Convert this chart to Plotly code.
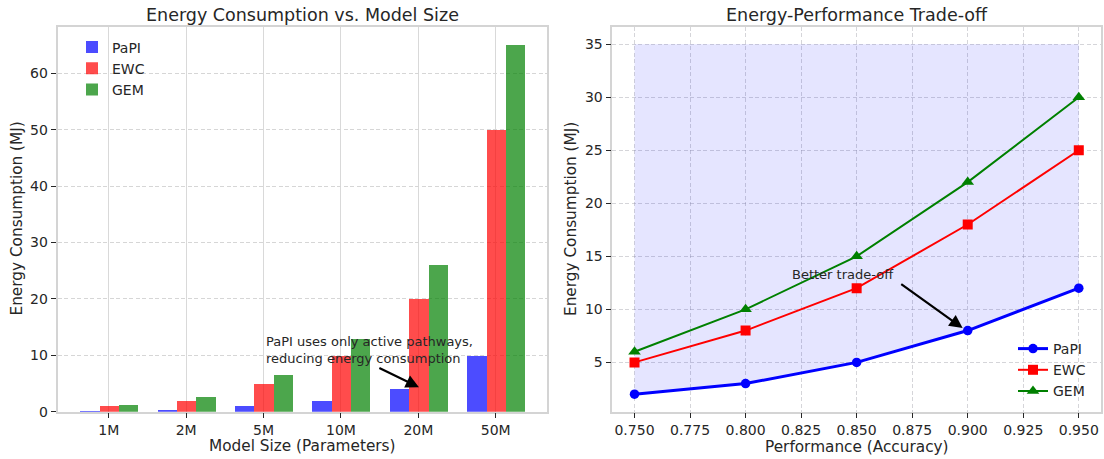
import plotly.graph_objects as go

# ---------------- data ----------------
model_sizes = ['1M', '2M', '5M', '10M', '20M', '50M']
papi_energy = [0.2, 0.4, 1, 2, 4, 10]
ewc_energy = [1, 2, 5, 10, 20, 50]
gem_energy = [1.3, 2.6, 6.5, 13, 26, 65]

performance = [0.75, 0.80, 0.85, 0.90, 0.95]
papi_perf_energy = [2, 3, 5, 8, 12]
ewc_perf_energy = [5, 8, 12, 18, 25]
gem_perf_energy = [6, 10, 15, 22, 30]
fill_top = 35

perf_ticks = [0.75, 0.775, 0.8, 0.825, 0.85, 0.875, 0.9, 0.925, 0.95]

# ---------------- styling ----------------
W, H = 1104, 459
FONT = 'DejaVu Sans'
TXT = '#262626'
FRAME = '#d4d4d4'
BAR_W = 0.25


def px(x):
    return x / W


def py(y):
    return 1 - y / H


left_dom = [px(57.5), px(547)]
right_dom = [px(612.3), px(1101)]
y_dom = [py(411.7), py(26.7)]

fig = go.Figure()

idx = list(range(len(model_sizes)))
series = [
    ('PaPI', papi_energy, 'rgba(0,0,255,0.7)', -BAR_W),
    ('EWC', ewc_energy, 'rgba(255,0,0,0.7)', 0.0),
    ('GEM', gem_energy, 'rgba(0,128,0,0.7)', BAR_W),
]
for name, vals, col, off in series:
    fig.add_trace(go.Bar(
        x=[i + off for i in idx], y=vals, width=BAR_W, name=name,
        marker=dict(color=col, line=dict(width=0)),
        xaxis='x', yaxis='y', legend='legend',
    ))

# fill between PaPI line and top
fig.add_trace(go.Scatter(
    x=performance, y=[fill_top] * len(performance), mode='lines',
    line=dict(width=0), showlegend=False, hoverinfo='skip',
    xaxis='x2', yaxis='y2'))
fig.add_trace(go.Scatter(
    x=performance, y=papi_perf_energy, mode='lines', fill='tonexty',
    fillcolor='rgba(0,0,255,0.1)', line=dict(width=0), showlegend=False,
    hoverinfo='skip', xaxis='x2', yaxis='y2'))

lines = [
    ('PaPI', papi_perf_energy, 'blue', 'circle', 9.5, 3),
    ('EWC', ewc_perf_energy, 'red', 'square', 10, 2),
    ('GEM', gem_perf_energy, 'green', 'triangle-up', 11, 2),
]
for name, vals, col, sym, ms, lw in lines:
    fig.add_trace(go.Scatter(
        x=performance, y=vals, mode='lines+markers', name=name,
        line=dict(color=col, width=lw),
        marker=dict(symbol=sym, size=ms, color=col, line=dict(width=0)),
        xaxis='x2', yaxis='y2', legend='legend2'))

axis_common = dict(
    showline=True, linecolor=FRAME, linewidth=1.5, mirror=True,
    ticks='outside', ticklen=5, tickwidth=1, tickcolor=TXT,
    tickfont=dict(family=FONT, size=14, color=TXT), zeroline=False,
    automargin=False,
)

grid_dash = '4px,2.5px'
fig.update_layout(
    width=W, height=H, margin=dict(l=0, r=0, t=0, b=0, pad=0, autoexpand=False),
    paper_bgcolor='white', plot_bgcolor='white',
    barmode='overlay', bargap=0,
    font=dict(family=FONT, color=TXT),
    xaxis=dict(domain=left_dom, anchor='y', range=[-0.6625, 5.6625],
               tickmode='array', tickvals=idx, ticktext=model_sizes,
               showgrid=True, gridcolor='#d9d9d9', gridwidth=1.4,
               **axis_common),
    yaxis=dict(domain=y_dom, anchor='x', range=[0, 68.25],
               tickmode='array', tickvals=[0, 10, 20, 30, 40, 50, 60],
               showgrid=True, gridcolor='#d6d6d6', gridwidth=1,
               griddash=grid_dash, **axis_common),
    xaxis2=dict(domain=right_dom, anchor='y2', range=[0.74, 0.96],
                tickmode='array', tickvals=perf_ticks,
                ticktext=[f'{v:.3f}' for v in perf_ticks],
                showgrid=True, gridcolor='rgba(150,150,160,0.4)', gridwidth=1,
                griddash=grid_dash, **axis_common),
    yaxis2=dict(domain=y_dom, anchor='x2', range=[0.35, 36.65],
                tickmode='array', tickvals=[5, 10, 15, 20, 25, 30, 35],
                showgrid=True, gridcolor='rgba(150,150,160,0.4)', gridwidth=1,
                griddash=grid_dash, **axis_common),
    legend=dict(x=px(72), y=py(31.5), xanchor='left', yanchor='top',
                bgcolor='rgba(0,0,0,0)', borderwidth=0, traceorder='normal',
                font=dict(family=FONT, size=14, color=TXT), tracegroupgap=0),
    legend2=dict(x=px(1013), y=py(333), xanchor='left', yanchor='top',
                 bgcolor='rgba(0,0,0,0)', borderwidth=0, traceorder='normal',
                 font=dict(family=FONT, size=14, color=TXT), tracegroupgap=0),
    showlegend=True,
)

ann = []
# titles
ann.append(dict(text='Energy Consumption vs. Model Size', x=px(302.3), y=py(15),
                xref='paper', yref='paper', showarrow=False, xanchor='center',
                yanchor='middle', font=dict(family=FONT, size=17.5, color=TXT)))
ann.append(dict(text='Energy-Performance Trade-off', x=px(856.7), y=py(15),
                xref='paper', yref='paper', showarrow=False, xanchor='center',
                yanchor='middle', font=dict(family=FONT, size=17.5, color=TXT)))
# axis titles
ann.append(dict(text='Model Size (Parameters)', x=px(302.3), y=py(445.5),
                xref='paper', yref='paper', showarrow=False, xanchor='center',
                yanchor='middle', font=dict(family=FONT, size=15.3, color=TXT)))
ann.append(dict(text='Performance (Accuracy)', x=px(856.7), y=py(446.5),
                xref='paper', yref='paper', showarrow=False, xanchor='center',
                yanchor='middle', font=dict(family=FONT, size=15.3, color=TXT)))
ann.append(dict(text='Energy Consumption (MJ)', x=px(16.5), y=py(219),
                xref='paper', yref='paper', showarrow=False, xanchor='center',
                yanchor='middle', textangle=-90,
                font=dict(family=FONT, size=15.3, color=TXT)))
ann.append(dict(text='Energy Consumption (MJ)', x=px(571), y=py(219),
                xref='paper', yref='paper', showarrow=False, xanchor='center',
                yanchor='middle', textangle=-90,
                font=dict(family=FONT, size=15.3, color=TXT)))
# left annotation
ann.append(dict(text='PaPI uses only active pathways,<br>reducing energy consumption',
                x=2.0, y=10.9, xref='x', yref='y', showarrow=False,
                xanchor='left', yanchor='middle', align='left',
                font=dict(family=FONT, size=13, color=TXT)))
ann.append(dict(text='', x=4.008, y=4.33, xref='x', yref='y',
                ax=3.477, ay=7.87, axref='x', ayref='y', showarrow=True,
                arrowhead=2, arrowsize=1.2, arrowwidth=2.2, arrowcolor='black'))
# right annotation
ann.append(dict(text='Better trade-off', x=0.82, y=13.33, xref='x2', yref='y2',
                showarrow=False, xanchor='left', yanchor='middle',
                font=dict(family=FONT, size=13, color=TXT)))
ann.append(dict(text='', x=0.8977, y=8.24, xref='x2', yref='y2',
                ax=0.8694, ay=12.48, axref='x2', ayref='y2', showarrow=True,
                arrowhead=2, arrowsize=1.2, arrowwidth=2.2, arrowcolor='black'))

fig.update_layout(annotations=ann)

fig.write_html('out.html')
